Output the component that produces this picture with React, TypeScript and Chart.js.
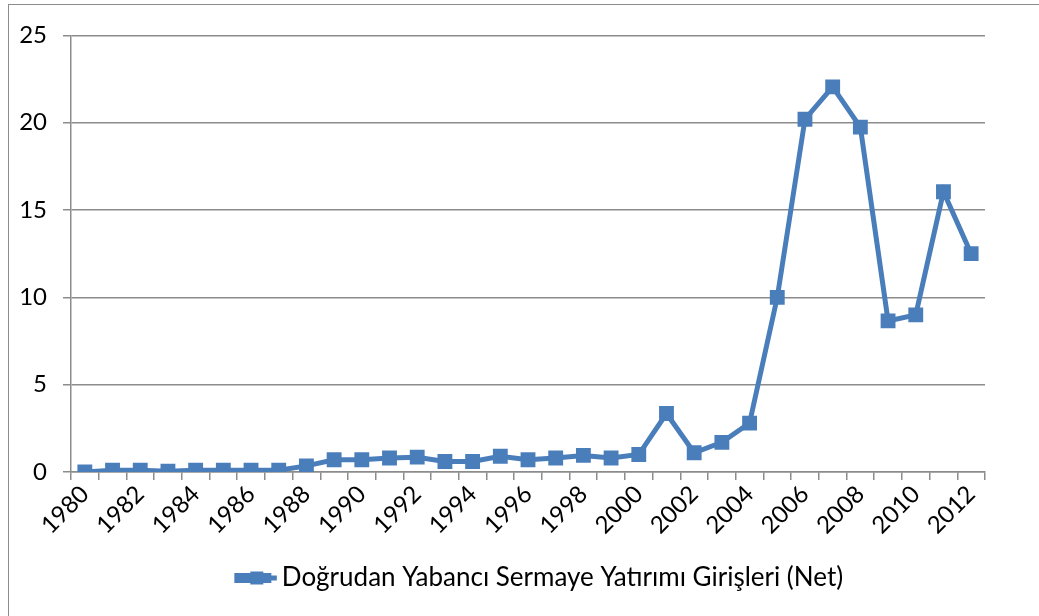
import React, { useEffect, useRef } from "react";
import { Chart, registerables } from "chart.js";

Chart.register(...registerables);

const years: string[] = [
  "1980","1981","1982","1983","1984","1985","1986","1987","1988","1989",
  "1990","1991","1992","1993","1994","1995","1996","1997","1998","1999",
  "2000","2001","2002","2003","2004","2005","2006","2007","2008","2009",
  "2010","2011","2012",
];
const fdiValues: number[] = [
  0.0, 0.1, 0.1, 0.05, 0.1, 0.1, 0.1, 0.1, 0.35, 0.7,
  0.7, 0.8, 0.85, 0.6, 0.6, 0.9, 0.7, 0.8, 0.95, 0.8,
  1.0, 3.35, 1.1, 1.7, 2.8, 10.0, 20.2, 22.05, 19.75, 8.65,
  9.0, 16.05, 12.5,
];
const seriesLabel = "Doğrudan Yabancı Sermaye Yatırımı Girişleri (Net)";
const yTicks: number[] = [0, 5, 10, 15, 20, 25];

const FONT = "Lato, 'Open Sans', sans-serif";
const BLUE = "#4a7ebb";
const GRID = "#8c8c8c";
const LEGEND_SHIFT = 16;
const MARKER_LINE = 40;

const legendMarker = {
  id: "legendMarker",
  beforeDraw(chart: any) {
    const legend = chart.legend;
    if (!legend || legend._shifted) return;
    legend.left += LEGEND_SHIFT;
    legend.right += LEGEND_SHIFT;
    legend._shifted = true;
  },
  afterDraw(chart: any) {
    const legend = chart.legend;
    if (!legend || !legend.legendHitBoxes || !legend.legendHitBoxes.length) return;
    const box = legend.legendHitBoxes[0];
    const ctx = chart.ctx;
    const pad = legend.options.labels.padding;
    const boxLeft = (legend.left + pad + legend.right - legend.lineWidths[0]) / 2;
    const cx = boxLeft + MARKER_LINE / 2;
    const cy = box.top + box.height / 2;
    ctx.save();
    ctx.fillStyle = BLUE;
    ctx.fillRect(boxLeft, cy - 2.5, MARKER_LINE, 5);
    ctx.fillRect(cx - 6.5, cy - 6.5, 13, 13);
    ctx.restore();
  },
};

export default function App() {
  const ref = useRef<HTMLCanvasElement | null>(null);
  useEffect(() => {
    if (!ref.current) return;
    const chart = new Chart(ref.current, {
      type: "line",
      data: {
        labels: years,
        datasets: [
          {
            label: seriesLabel,
            data: fdiValues,
            borderColor: BLUE,
            backgroundColor: BLUE,
            borderWidth: 5,
            pointStyle: "rect",
            pointRadius: 10.5,
            pointBackgroundColor: BLUE,
            pointBorderColor: BLUE,
            pointBorderWidth: 0,
            tension: 0,
          },
        ],
      },
      options: {
        animation: false,
        responsive: false,
        maintainAspectRatio: false,
        layout: { padding: { left: 0, right: 0, top: 21, bottom: 15 } },
        plugins: {
          tooltip: { enabled: false },
          legend: {
            position: "bottom",
            labels: {
              font: { family: FONT, size: 26 },
              color: "#000",
              boxWidth: 32,
              boxHeight: 5,
              padding: 10,
            },
          },
        },
        scales: {
          x: {
            type: "category",
            offset: true,
            grid: {
              offset: true,
              drawOnChartArea: false,
              drawTicks: true,
              tickLength: 8,
              color: GRID,
              lineWidth: 1.5,
            },
            border: { color: GRID, width: 1.5 },
            ticks: {
              autoSkip: false,
              maxRotation: 45,
              minRotation: 45,
              color: "#000",
              font: { family: FONT, size: 24 },
              padding: 0,
              callback: (_v: any, i: number) => (i % 2 === 0 ? years[i] : ""),
            },
            afterFit: (scale: any) => {
              scale.height = 83;
            },
          },
          y: {
            min: 0,
            max: 25,
            afterBuildTicks: (scale: any) => {
              scale.ticks = yTicks.map((v) => ({ value: v }));
            },
            grid: {
              color: GRID,
              lineWidth: 1.5,
              tickLength: 8,
            },
            border: { color: GRID, width: 1.5 },
            ticks: {
              color: "#000",
              font: { family: FONT, size: 24 },
              padding: 16,
            },
            afterFit: (scale: any) => {
              scale.width = 62;
            },
          },
          yRight: {
            position: "right",
            min: 0,
            max: 25,
            grid: { display: false, drawTicks: false },
            border: { display: false },
            ticks: { display: false },
            afterFit: (scale: any) => {
              scale.width = 54;
            },
          },
        },
      },
      plugins: [legendMarker],
    });
    return () => chart.destroy();
  }, []);

  return (
    <div
      style={{
        position: "fixed",
        left: 8,
        top: 4,
        width: 1040,
        height: 620,
        border: "1.5px solid #8c8c8c",
        background: "#fff",
        boxSizing: "border-box",
      }}
    >
      <canvas ref={ref} width={1030} height={611} style={{ display: "block" }} />
    </div>
  );
}
